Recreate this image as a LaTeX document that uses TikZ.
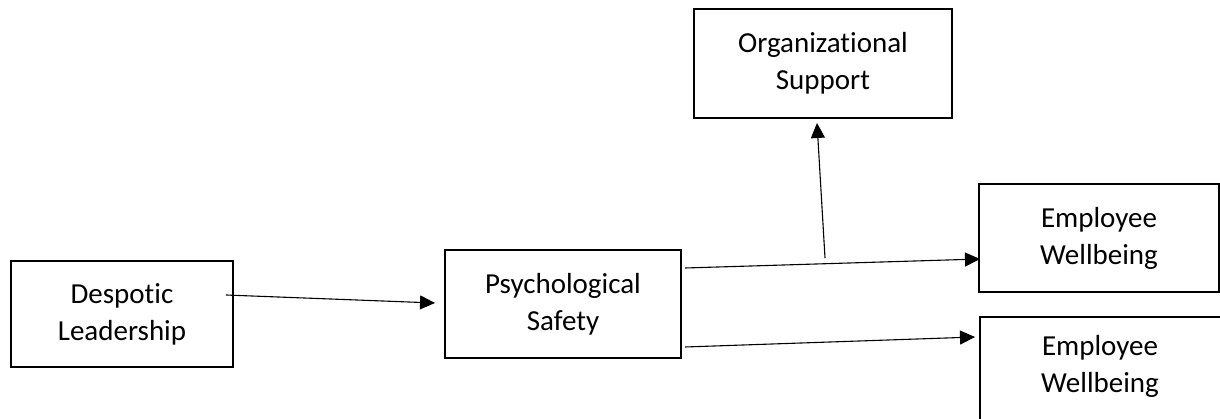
\documentclass[tikz,border=0pt]{standalone}
\usepackage{fontspec}
\setmainfont{Carlito}[Ligatures=NoCommon]
\usetikzlibrary{arrows.meta}
\tikzset{
  box/.style={draw=black, line width=2pt, fill=white, align=center, inner sep=0pt,
    font=\fontsize{29}{37}\selectfont},
  link/.style={line width=1.1pt, -{Triangle[length=15pt,width=14pt]}}
}
\begin{document}
\begin{tikzpicture}[x=1pt,y=-1pt]
\useasboundingbox (0,0) rectangle (1220,419);
\clip (0,0) rectangle (1220,419);
\node[box, minimum width=222pt, minimum height=106pt] (dl) at (122,314) {Despotic\\Leadership};
\node[box, minimum width=236pt, minimum height=107pt] (ps) at (563,304) {Psychological\\Safety};
\node[box, minimum width=258pt, minimum height=109pt] (os) at (823,63.5) {Organizational\\Support};
\node[box, minimum width=240pt, minimum height=108pt] (ew1) at (1099,238) {Employee\\Wellbeing};
\node[box, minimum width=260pt, minimum height=108pt, anchor=north west] (ew2) at (979,316) {};
\node[font=\fontsize{29}{37}\selectfont, align=center, inner sep=0pt] (ew2t) at (1100,366) {Employee\\Wellbeing};
\coordinate (a1s) at (226,295);
\coordinate (a1e) at (435,303);
\coordinate (a2s) at (685,268);
\coordinate (a2e) at (980,259);
\coordinate (a3s) at (685,347);
\coordinate (a3e) at (975,337);
\coordinate (a4s) at (825,258);
\coordinate (a4e) at (817,123);
\draw[link] (a1s) -- (a1e);
\draw[link] (a2s) -- (a2e);
\draw[link] (a3s) -- (a3e);
\draw[link] (a4s) -- (a4e);
\end{tikzpicture}
\end{document}
